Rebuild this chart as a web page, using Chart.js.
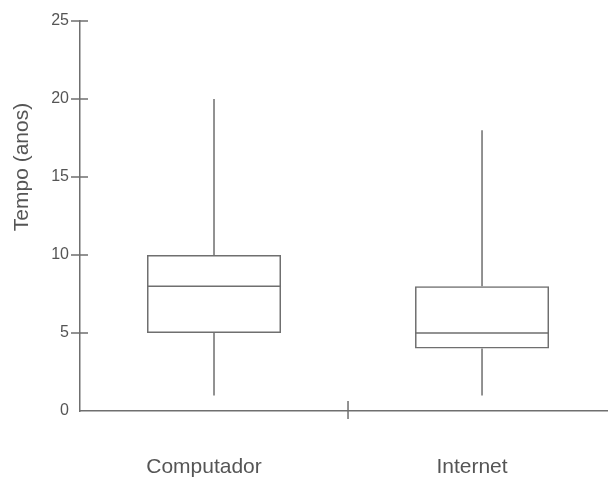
<!DOCTYPE html>
<html>
<head>
<meta charset="utf-8">
<script src="https://cdn.jsdelivr.net/npm/chart.js@4.4.0/dist/chart.umd.min.js"></script>
<style>
  html, body { margin: 0; padding: 0; background: #fff; }
  #wrap { width: 608px; height: 477px; }
</style>
</head>
<body>
<div id="wrap"><canvas id="boxChart"></canvas></div>
<script>
// --- Data ---
const categories = ['Computador', 'Internet'];
const whiskerLow = [1, 1];
const quartile1 = [5, 4];
const medians = [8, 5];
const quartile3 = [10, 8];
const whiskerHigh = [20, 18];
const yTicks = [0, 5, 10, 15, 20, 25];
const yTitle = 'Tempo (anos)';

const lineColor = '#6f6f6f';
const textColor = '#555555';
Chart.defaults.font.family = '"Liberation Sans", Arial, sans-serif';

// --- Whiskers, medians, tick marks and the y title ---
const boxPlotExtras = {
  id: 'boxPlotExtras',
  afterDatasetsDraw(chart) {
    const { ctx, chartArea, scales: { x, y } } = chart;
    const bars = chart.getDatasetMeta(0).data;
    ctx.save();
    ctx.strokeStyle = lineColor;
    ctx.lineWidth = 1.5;

    bars.forEach((bar, i) => {
      const cx = bar.x;
      const half = bar.width / 2;
      ctx.beginPath();
      // lower whisker
      ctx.moveTo(cx, y.getPixelForValue(whiskerLow[i]));
      ctx.lineTo(cx, y.getPixelForValue(quartile1[i]));
      // upper whisker
      ctx.moveTo(cx, y.getPixelForValue(quartile3[i]));
      ctx.lineTo(cx, y.getPixelForValue(whiskerHigh[i]));
      // median
      ctx.moveTo(cx - half, y.getPixelForValue(medians[i]));
      ctx.lineTo(cx + half, y.getPixelForValue(medians[i]));
      ctx.stroke();
    });

    // y tick marks crossing the axis
    ctx.beginPath();
    y.ticks.forEach(t => {
      if (t.value === 0) return;
      const py = y.getPixelForValue(t.value);
      ctx.moveTo(chartArea.left - 9, py);
      ctx.lineTo(chartArea.left + 8, py);
    });
    // divider tick between the two groups
    const mid = x.getPixelForValue(1);
    ctx.moveTo(mid, chartArea.bottom - 10);
    ctx.lineTo(mid, chartArea.bottom + 8);
    ctx.stroke();

    // y axis title
    ctx.translate(22, 167);
    ctx.rotate(-Math.PI / 2);
    ctx.fillStyle = textColor;
    ctx.font = '21px "Liberation Sans", Arial, sans-serif';
    ctx.textAlign = 'center';
    ctx.textBaseline = 'middle';
    ctx.fillText(yTitle, 0, 0);
    ctx.restore();
  }
};

new Chart(document.getElementById('boxChart'), {
  type: 'bar',
  data: {
    datasets: [{
      data: categories.map((c, i) => ({ x: i + 0.5, y: [quartile1[i], quartile3[i]] })),
      backgroundColor: 'rgba(255,255,255,0)',
      borderColor: lineColor,
      borderWidth: 1.5,
      borderSkipped: false,
      barPercentage: 0.5,
      categoryPercentage: 1.0
    }]
  },
  options: {
    responsive: true,
    maintainAspectRatio: false,
    animation: false,
    layout: { padding: { top: 21, right: 0, bottom: 0, left: 0 } },
    plugins: { legend: { display: false }, tooltip: { enabled: false } },
    scales: {
      x: {
        type: 'linear',
        offset: false,
        min: 0,
        max: 1.97,
        afterBuildTicks: scale => {
          scale.ticks = categories.map((c, i) => ({ value: i + 0.5 }));
        },
        afterFit: scale => { scale.height = 66; },
        grid: { display: false, drawTicks: false, offset: false },
        border: { display: true, color: lineColor, width: 1.5 },
        ticks: {
          autoSkip: false,
          maxRotation: 0,
          padding: 44,
          labelOffset: -10,
          color: textColor,
          font: { size: 21 },
          callback: value => categories[Math.round(value - 0.5)]
        }
      },
      y: {
        min: 0,
        max: 25,
        afterBuildTicks: scale => {
          scale.ticks = yTicks.map(v => ({ value: v }));
        },
        afterFit: scale => { scale.width = 80; },
        grid: { display: false, drawTicks: false },
        border: { display: true, color: lineColor, width: 1.5 },
        ticks: {
          padding: 11,
          color: textColor,
          font: { size: 16 }
        }
      }
    }
  },
  plugins: [boxPlotExtras]
});
</script>
</body>
</html>
